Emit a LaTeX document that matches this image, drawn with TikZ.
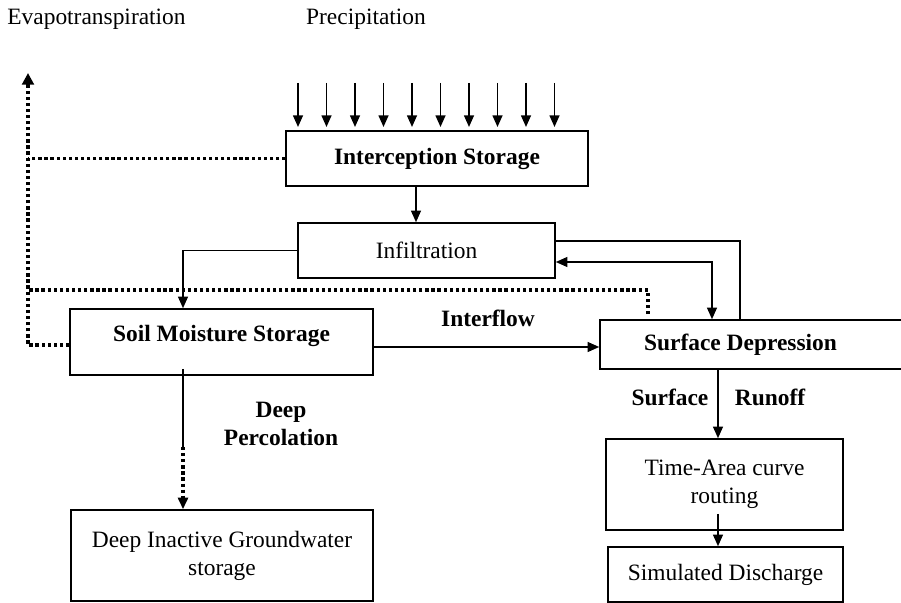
\documentclass[tikz,border=0pt]{standalone}
\usepackage{fontspec}
\setmainfont{Liberation Serif}
\usetikzlibrary{arrows.meta,calc}

\begin{document}
\begin{tikzpicture}[x=0.3mm, y=-0.3mm,
   every node/.style = {font=\fontsize{20}{24}\selectfont},
   box/.style = {draw, line width=1.3pt, inner sep=0pt, align=center},
   arr/.style = {line width=1.4pt, -{Triangle[length=10pt,width=8.5pt]}},
   dots/.style = {line width=3pt, dash pattern=on 2.8pt off 2.4pt},
   lbl/.style = {font=\fontsize{20}{24}\selectfont\bfseries, align=center}]
   \useasboundingbox (0,0) rectangle (901,603);
   % boxes
   \node[box, minimum width=90.6mm, minimum height=16.5mm] (is) at (437,158.5) {\textbf{Interception Storage}};
   \node[box, minimum width=77.1mm, minimum height=16.5mm] (inf) at (426.5,250.5) {Infiltration};
   \node[box, minimum width=90.9mm, minimum height=19.8mm] (sm) at (221.5,342) {\raisebox{5mm}{\textbf{Soil Moisture Storage}}};
   \node[box, minimum width=91.5mm, minimum height=14.7mm] (sd) at (752.5,344.5) {\textbf{Surface Depression}\hspace*{7.2mm}};
   \node[box, minimum width=71.1mm, minimum height=27.3mm] (ta) at (724.5,484.5) {Time-Area curve\\routing};
   \node[box, minimum width=70.5mm, minimum height=16.5mm] (sim) at (725.5,574.5) {Simulated Discharge};
   \node[box, minimum width=90.6mm, minimum height=27.3mm] (dg) at (222,555.5) {Deep Inactive Groundwater\\storage};
   % titles and labels
   \node (evt) at (96.5,19) {Evapotranspiration};
   \node (pre) at (366,19) {Precipitation};
   \node[lbl] (ifw) at (488,318) {Interflow};
   \node[lbl] (dpl) at (281,424) {Deep\\Percolation};
   \node[lbl] (srf) at (670,397) {Surface};
   \node[lbl] (rnf) at (770,397) {Runoff};
   % helper points
   \coordinate (evtop) at (28,73);
   \coordinate (ifl) at (648,290);
   \coordinate (c1) at (183,0);
   \coordinate (a1) at (416,0);
   \coordinate (r1) at (740,241);
   \coordinate (r2) at (712,262);
   \coordinate (h1) at (0,347);
   \coordinate (dp) at (183,447);
   \coordinate (v1) at (718,0);
   % precipitation
   \foreach \i in {0,...,9} {
      \coordinate (rain\i) at (298+28.5*\i,83);
      \draw[arr] (rain\i) -- ++(0,44);
   }
   % evapotranspiration
   \draw[dots, -{Triangle[length=10pt,width=10pt]}] (sm.west |- 0,345) -| (evtop);
   \draw[dots] (is.west) -- (is.west -| evtop);
   \draw[dots, shorten <=1.5mm] (ifl |- sd.north) -- (ifl) -- (ifl -| evtop);
   % flows
   \draw[arr] (a1 |- is.south) -- (a1 |- inf.north);
   \draw[arr] (inf.west) -| (c1 |- sm.north);
   \draw[line width=1.3pt] (inf.east |- r1) -| (r1 |- sd.north);
   \draw[line width=1.4pt, {Triangle[length=10pt,width=8.5pt]}-{Triangle[length=10pt,width=8.5pt]}] (inf.east |- r2) -| (r2 |- sd.north);
   \draw[arr] (sm.east |- h1) -- (sd.west |- h1);
   \draw[line width=2pt] ($(c1 |- sm.south)+(0,-7)$) -- (dp);
   \draw[dots, -{Triangle[length=10pt,width=8.5pt]}] (dp) -- (c1 |- dg.north);
   \draw[arr] (v1 |- sd.south) -- (v1 |- ta.north);
   \draw[arr] ($(v1 |- ta.south)+(0,-17)$) -- (v1 |- sim.north);
\end{tikzpicture}
\end{document}
